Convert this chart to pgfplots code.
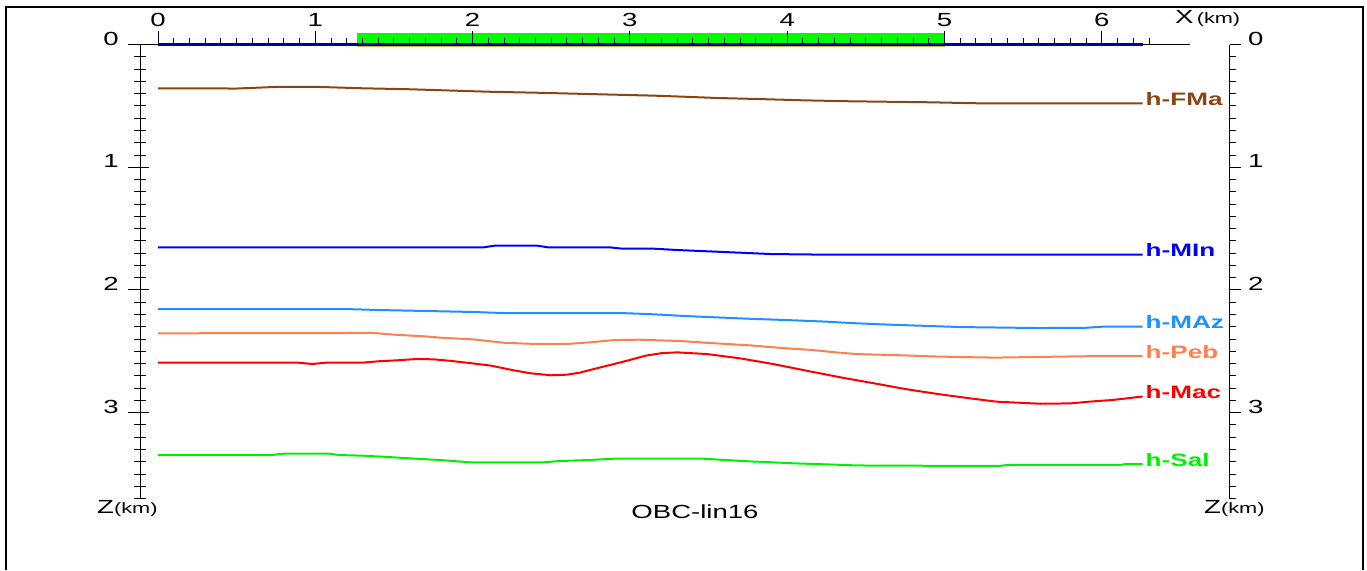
\documentclass[border=0pt]{standalone}
\usepackage{pgfplots}
\pgfplotsset{compat=1.18}
\usepackage{fontspec}
\setmainfont{Liberation Sans}[FakeStretch=1.45]

\definecolor{cFMa}{RGB}{139,69,19}
\definecolor{cMIn}{RGB}{0,0,255}
\definecolor{cMAz}{RGB}{30,144,255}
\definecolor{cPeb}{RGB}{255,127,80}
\definecolor{cMac}{RGB}{255,0,0}
\definecolor{cSal}{RGB}{0,240,0}
\definecolor{lineblue}{RGB}{0,0,170}
\definecolor{spreadgreen}{RGB}{0,255,0}
\definecolor{spreadedge}{RGB}{200,190,40}

% shared geometry of the section frame (1 unit = 1 pt)
\pgfplotsset{
  section/.style={
    at={(140pt,525.4pt)}, anchor=north west,
    scale only axis, width=1089pt, height=454pt,
    xmin=-0.1144, xmax=6.8087, ymin=0, ymax=3.7, y dir=reverse,
    axis line style={draw=none}, xtick=\empty, ytick=\empty,
    clip=false,
  },
}
\tikzset{
  hlabel/.style={anchor=base west, inner sep=0pt, xshift=2pt, yshift=-2pt,
    font=\fontsize{18}{18}\selectfont\bfseries},
}

\newcommand{\lbl}{\fontsize{19}{19}\selectfont}
\newcommand{\unit}{\fontsize{15}{15}\selectfont}

\begin{document}
\begin{tikzpicture}[x=1pt,y=1pt]
\useasboundingbox (0,0) rectangle (1367,570);
% outer frame
\draw[line width=2.5pt] (6,0) -- (6,563) -- (1363,563) -- (1363,0);

% acquisition spread along the profile
\begin{axis}[section]
  \addplot[fill=spreadgreen, draw=none] coordinates {(1.265,0) (5,0) (5,-0.092) (1.265,-0.092)} -- cycle;
  \addplot[spreadedge, line width=0.8pt] coordinates {(1.265,0.013) (5,0.013)};
\end{axis}

% top distance axis
\draw[line width=1pt] (128,525.4) -- (1190,525.4);
\foreach \k in {0,...,63}{
  \draw[line width=1pt] (158+\k*15.73,525.4) -- ++(0,6.5);
}
\foreach \k in {0,...,6}{
  \draw[line width=1pt] (158+\k*157.3,525.4) -- ++(0,13.5);
  \node[inner sep=0pt] at (158+\k*157.3,550) {\lbl \k};
}
\node[anchor=west, inner sep=0pt] at (1175,551) {\lbl X\,\unit(km)};

% left depth axis
\draw[line width=1pt] (140,525.4) -- (140,71.4);
\foreach \k in {1,...,37}{
  \draw[line width=1pt] (134,525.4-\k*12.27) -- (146,525.4-\k*12.27);
}
\foreach \k in {0,...,3}{
  \draw[line width=1pt] (128,525.4-\k*122.7) -- (149,525.4-\k*122.7);
  \node[anchor=east, inner sep=0pt] at (119,531.4-\k*122.7) {\lbl \k};
}
\node[anchor=west, inner sep=0pt] at (97,61) {\lbl Z\unit(km)};

% right depth axis
\draw[line width=1pt] (1229.5,525.4) -- (1229.5,71.4);
\foreach \k in {0,...,37}{
  \draw[line width=1pt] (1229.5,525.4-\k*12.27) -- (1236,525.4-\k*12.27);
}
\foreach \k in {0,...,3}{
  \draw[line width=1pt] (1229.5,525.4-\k*122.7) -- (1241,525.4-\k*122.7);
  \node[anchor=west, inner sep=0pt] at (1248,531.4-\k*122.7) {\lbl \k};
}
\node[anchor=west, inner sep=0pt] at (1204,61) {\lbl Z\unit(km)};

\node[inner sep=0pt] at (695,58) {\lbl OBC-lin16};

% horizons
\begin{axis}[section, every axis plot/.append style={line width=2pt}]
  \addplot[lineblue, line width=2.5pt] coordinates {(0,0) (6.26,0)};

  \addplot[cFMa] coordinates {
    (0,0.356) (0.5,0.358) (0.75,0.345) (1.0,0.344) (1.3,0.356) (1.6,0.364)
    (1.9,0.376) (2.1,0.384) (2.4,0.392) (2.65,0.400) (2.9,0.408) (3.15,0.416)
    (3.35,0.425) (3.55,0.435) (3.8,0.443) (4.1,0.454) (4.4,0.462) (4.9,0.470)
    (5.2,0.478) (6.26,0.478)
  } node[pos=1, hlabel, text=cFMa] {h-FMa};

  \addplot[cMIn] coordinates {
    (0,1.652) (2.07,1.652) (2.14,1.639) (2.41,1.639) (2.48,1.652) (2.87,1.652)
    (2.95,1.663) (3.15,1.663) (3.3,1.674) (3.5,1.685) (3.7,1.696) (3.9,1.707)
    (4.25,1.712) (6.26,1.712)
  } node[pos=1, hlabel, text=cMIn] {h-MIn};

  \addplot[cMAz] coordinates {
    (0,2.155) (1.19,2.155) (1.4,2.163) (1.7,2.171) (2.0,2.179) (2.2,2.188)
    (2.95,2.188) (3.15,2.198) (3.35,2.212) (3.55,2.223) (3.75,2.234) (4.0,2.245)
    (4.25,2.258) (4.4,2.269) (4.6,2.280) (4.85,2.291) (5.1,2.302) (5.6,2.310)
    (5.9,2.308) (6.0,2.299) (6.26,2.299)
  } node[pos=1, hlabel, text=cMAz] {h-MAz};

  \addplot[cPeb] coordinates {
    (0,2.353) (1.37,2.350) (1.5,2.364) (1.7,2.378) (1.8,2.389) (2.0,2.402)
    (2.2,2.430) (2.4,2.440) (2.6,2.440) (2.75,2.426) (2.9,2.408) (3.06,2.405)
    (3.32,2.416) (3.55,2.435) (3.76,2.451) (3.97,2.473) (4.16,2.489) (4.31,2.508)
    (4.44,2.522) (4.72,2.532) (4.97,2.543) (5.32,2.551) (5.99,2.538) (6.26,2.538)
  } node[pos=1, hlabel, text=cPeb] {h-Peb};

  \addplot[cMac] coordinates {
    (0,2.592) (0.89,2.592) (0.98,2.603) (1.07,2.592) (1.3,2.592) (1.4,2.581)
    (1.52,2.573) (1.65,2.562) (1.75,2.565) (1.85,2.576) (1.98,2.595) (2.12,2.617)
    (2.25,2.652) (2.37,2.679) (2.5,2.695) (2.6,2.690) (2.68,2.674) (2.78,2.641)
    (2.9,2.603) (3.0,2.570) (3.1,2.535) (3.2,2.515) (3.30,2.508) (3.49,2.522)
    (3.70,2.557) (3.91,2.603) (4.12,2.657) (4.34,2.712) (4.55,2.760) (4.76,2.809)
    (4.97,2.850) (5.18,2.886) (5.33,2.910) (5.61,2.927) (5.80,2.924) (5.92,2.910)
    (6.07,2.896) (6.26,2.868)
  } node[pos=1, hlabel, text=cMac] {h-Mac};

  \addplot[cSal] coordinates {
    (0,3.345) (0.72,3.345) (0.8,3.334) (1.09,3.334) (1.15,3.345) (1.3,3.350)
    (1.45,3.360) (1.6,3.372) (1.8,3.386) (1.98,3.404) (2.45,3.404) (2.55,3.394)
    (2.75,3.385) (2.9,3.375) (3.47,3.375) (3.6,3.385) (3.75,3.396) (3.9,3.404)
    (4.05,3.413) (4.25,3.421) (4.45,3.430) (5.0,3.433) (5.35,3.434) (5.4,3.426)
    (6.12,3.426) (6.15,3.418) (6.26,3.418)
  } node[pos=1, hlabel, text=cSal] {h-Sal};
\end{axis}
\end{tikzpicture}
\end{document}
